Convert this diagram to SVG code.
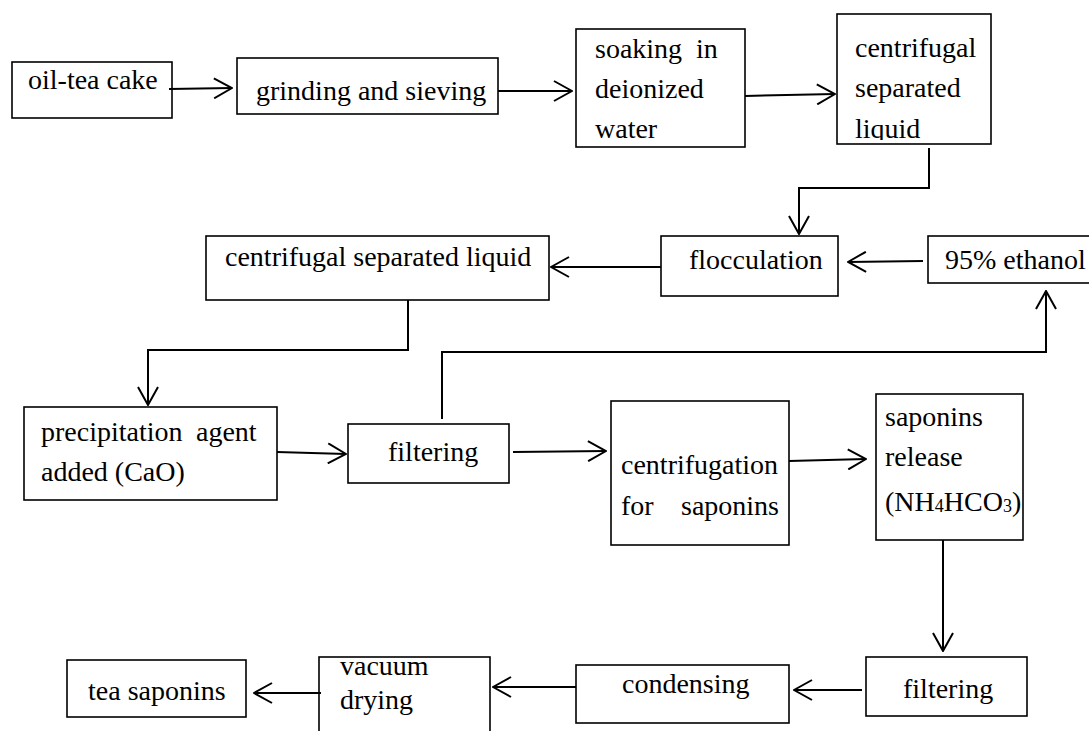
<svg xmlns="http://www.w3.org/2000/svg" width="1089" height="731" viewBox="0 0 1089 731">
<style>
  .box { fill: #fff; stroke: #000; stroke-width: 1.6; }
  .t { font-family: "Liberation Serif", "Times New Roman", serif; font-size: 28px; fill: #000; }
  .sub { font-size: 18px; }
  .conn path { fill: none; stroke: #000; stroke-width: 2; marker-end: url(#arr); }
</style>
<defs>
  <marker id="arr" viewBox="0 0 20 22" refX="19" refY="11" markerWidth="20" markerHeight="22" markerUnits="userSpaceOnUse" orient="auto">
    <path d="M1,1 L19,11 L1,21" fill="none" stroke="#000" stroke-width="2"/>
  </marker>
  <clipPath id="clipLiquid"><rect x="837" y="14" width="154" height="126"/></clipPath>
</defs>
<rect width="1089" height="731" fill="#fff"/>

<g id="n-oiltea"><rect class="box" x="12" y="62" width="160" height="56"/><text class="t" x="28" y="89">oil-tea cake</text></g>
<g id="n-grinding"><rect class="box" x="237" y="58" width="261" height="56"/><text class="t" x="256" y="100">grinding and sieving</text></g>
<g id="n-soaking"><rect class="box" x="576" y="29" width="169" height="118"/>
  <text class="t" y="58"><tspan x="595">soaking</tspan><tspan x="696">in</tspan></text>
  <text class="t" x="595" y="98">deionized</text>
  <text class="t" x="595" y="138">water</text></g>
<g id="n-centrifugal1"><rect class="box" x="837" y="14" width="154" height="130"/>
  <text class="t" x="855" y="57">centrifugal</text>
  <text class="t" x="855" y="97">separated</text>
  <text class="t" x="855" y="138" clip-path="url(#clipLiquid)">liquid</text></g>
<g id="n-flocculation"><rect class="box" x="661" y="236" width="177" height="60"/><text class="t" x="689" y="269">flocculation</text></g>
<g id="n-ethanol"><rect class="box" x="928" y="236" width="180" height="47"/><text class="t" x="945" y="269">95% ethanol</text></g>
<g id="n-centrifugal2"><rect class="box" x="206" y="236" width="343" height="64"/><text class="t" x="225" y="266">centrifugal separated liquid</text></g>
<g id="n-precipitation"><rect class="box" x="24" y="407" width="253" height="93"/>
  <text class="t" y="441"><tspan x="41">precipitation</tspan><tspan x="196">agent</tspan></text>
  <text class="t" x="41" y="481">added (CaO)</text></g>
<g id="n-filtering1"><rect class="box" x="348" y="424" width="161" height="59"/><text class="t" x="388" y="461">filtering</text></g>
<g id="n-centrifugation"><rect class="box" x="611" y="401" width="178" height="144"/>
  <text class="t" x="621" y="474">centrifugation</text>
  <text class="t" y="515"><tspan x="621">for</tspan><tspan x="681">saponins</tspan></text></g>
<g id="n-release"><rect class="box" x="876" y="394" width="147" height="146"/>
  <text class="t" x="885" y="426">saponins</text>
  <text class="t" x="885" y="466">release</text>
  <text class="t" x="885" y="511">(NH<tspan class="sub" dy="1">4</tspan><tspan dy="-1">HCO</tspan><tspan class="sub" dy="1">3</tspan><tspan dy="-1">)</tspan></text></g>
<g id="n-filtering2"><rect class="box" x="866" y="657" width="161" height="59"/><text class="t" x="903" y="698">filtering</text></g>
<g id="n-condensing"><rect class="box" x="576" y="665" width="213" height="58"/><text class="t" x="622" y="693">condensing</text></g>
<g id="n-vacuum"><rect class="box" x="319" y="657" width="171" height="110"/>
  <text class="t" x="340" y="675">vacuum</text>
  <text class="t" x="340" y="709">drying</text></g>
<g id="n-tea"><rect class="box" x="67" y="660" width="179" height="57"/><text class="t" x="88" y="700">tea saponins</text></g>

<g id="connectors" class="conn">
  <path d="M169,89 L232,88"/>
  <path d="M498,91 L572,91"/>
  <path d="M745,96 L835,94"/>
  <path d="M929,148 V188 H799 V234"/>
  <path d="M923,261 L848,262"/>
  <path d="M661,267 L551,267"/>
  <path d="M408,300 V350 H148 V405"/>
  <path d="M277,452 L346,454"/>
  <path d="M442,419 V352 H1046 V291"/>
  <path d="M513,452 L606,451"/>
  <path d="M789,461 L866,459"/>
  <path d="M943,540 V651"/>
  <path d="M862,690 L794,690"/>
  <path d="M576,687 L493,687"/>
  <path d="M321,693 L254,693"/>
</g>
</svg>
